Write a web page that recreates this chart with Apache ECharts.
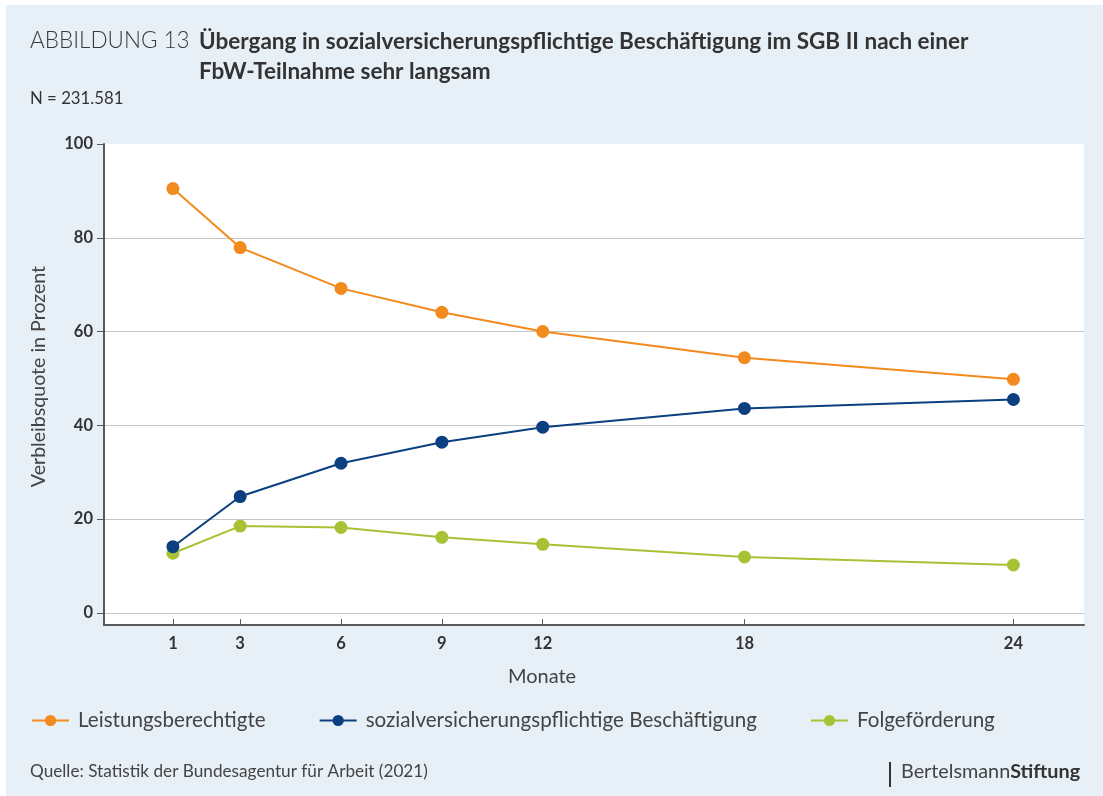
<!DOCTYPE html>
<html>
<head>
<meta charset="utf-8">
<script src="https://cdn.jsdelivr.net/npm/echarts@6/dist/echarts.min.js"></script>
<style>
  html, body { margin: 0; padding: 0; background: #fff; }
  #chart { width: 1103px; height: 796px; }
</style>
</head>
<body>
<div id="chart"></div>
<script>
// Months after programme participation
const months = [1, 3, 6, 9, 12, 18, 24];
// Share in percent per status
const leistungsberechtigte = [90.5, 77.9, 69.2, 64.1, 60.0, 54.4, 49.8];
const beschaeftigung = [14.1, 24.8, 31.9, 36.4, 39.6, 43.6, 45.5];
const folgefoerderung = [12.7, 18.5, 18.2, 16.1, 14.6, 11.9, 10.2];
const yTicks = [0, 20, 40, 60, 80, 100];

const seriesNames = ['Leistungsberechtigte', 'sozialversicherungspflichtige Beschäftigung', 'Folgeförderung'];
const seriesColors = ['#F28A1D', '#0B3F80', '#A8C236'];

// The axis is stretched after month 18 (24 sits at 26 on the drawing scale)
const BREAK = 18, STRETCH = 4 / 3;
const axisPos = m => (m <= BREAK ? m : BREAK + (m - BREAK) * STRETCH);
const fromPos = p => (p <= BREAK ? p : BREAK + (p - BREAK) / STRETCH);

const toPairs = vals => months.map((m, i) => [axisPos(m), vals[i]]);

const FONT = 'Lato, "Noto Sans", sans-serif';
const chart = echarts.init(document.getElementById('chart'));

chart.setOption({
  backgroundColor: '#fff',
  animation: false,
  textStyle: { fontFamily: FONT },
  grid: {
    left: 104, right: 19, top: 144, bottom: 171,
    show: true, backgroundColor: '#fff', borderWidth: 0
  },
  graphic: [
    { type: 'rect', z: -100, silent: true,
      shape: { x: 6, y: 5, width: 1097, height: 791 },
      style: { fill: '#E8F0F7' } },
    { type: 'text', left: 30, top: 29,
      style: { text: 'ABBILDUNG 13', fontFamily: FONT, fontWeight: 300, fontSize: 22.5, fill: '#3a3a3a' } },
    { type: 'text', left: 199, top: 27,
      style: { text: 'Übergang in sozialversicherungspflichtige Beschäftigung im SGB II nach einer\nFbW-Teilnahme sehr langsam',
               fontFamily: FONT, fontWeight: 'bold', fontSize: 22.5, lineHeight: 30, fill: '#333' } },
    { type: 'text', left: 30, top: 90,
      style: { text: 'N = 231.581', fontFamily: FONT, fontSize: 16.8, fill: '#333' } },
    { type: 'text', left: 30, top: 763,
      style: { text: 'Quelle: Statistik der Bundesagentur für Arbeit (2021)', fontFamily: FONT, fontSize: 17.2, fill: '#444' } },
    { type: 'rect', silent: true,
      shape: { x: 889, y: 762, width: 2, height: 25 },
      style: { fill: '#333' } },
    { type: 'text', left: 901, top: 762,
      style: { text: '{r|Bertelsmann}{b|Stiftung}',
               rich: { r: { fontFamily: FONT, fontSize: 19.8, fill: '#444', fontWeight: 'normal' },
                       b: { fontFamily: FONT, fontSize: 19.8, fill: '#333', fontWeight: 'bold' } } } }
  ],
  legend: {
    left: 31, top: 710, padding: 0,
    itemWidth: 37, itemHeight: 14, itemGap: 53,
    textStyle: { fontFamily: FONT, fontSize: 20.6, color: '#444', padding: [0, 0, 0, 4] },
    data: seriesNames
  },
  xAxis: {
    type: 'value',
    min: -1.05, max: 28.1,
    name: 'Monate',
    nameLocation: 'middle',
    nameGap: 42,
    nameTextStyle: { fontFamily: FONT, fontSize: 20, color: '#444', padding: [0, 104, 0, 0] },
    axisLine: { show: true, onZero: false, lineStyle: { color: '#5a5a5a', width: 2 } },
    axisTick: { show: true, inside: true, length: 6, customValues: months.map(axisPos),
                lineStyle: { color: '#5a5a5a', width: 1 } },
    axisLabel: { customValues: months.map(axisPos), margin: 10,
                 formatter: v => String(Math.round(fromPos(v))),
                 fontFamily: FONT, fontSize: 16.5, fontWeight: 'bold', color: '#333' },
    splitLine: { show: false }
  },
  yAxis: {
    type: 'value',
    min: -2.6, max: 100,
    name: 'Verbleibsquote in Prozent',
    nameLocation: 'middle',
    nameGap: 55,
    nameTextStyle: { fontFamily: FONT, fontSize: 19.6, color: '#444', padding: [0, 0, 0, 16] },
    axisLine: { show: true, onZero: false, lineStyle: { color: '#5a5a5a', width: 2 } },
    axisTick: { show: true, inside: false, length: 7, customValues: yTicks,
                lineStyle: { color: '#5a5a5a', width: 1 } },
    axisLabel: { customValues: yTicks, margin: 11,
                 fontFamily: FONT, fontSize: 16.5, fontWeight: 'bold', color: '#333' },
    splitLine: { show: true,
                 lineStyle: { color: ['#c6c6c6', '#c6c6c6', '#c6c6c6', '#c6c6c6', '#c6c6c6', 'rgba(0,0,0,0)'], width: 1 } }
  },
  series: [leistungsberechtigte, beschaeftigung, folgefoerderung].map((vals, i) => ({
    name: seriesNames[i],
    type: 'line',
    data: toPairs(vals),
    symbol: 'circle',
    symbolSize: 13,
    color: seriesColors[i],
    lineStyle: { width: 2, color: seriesColors[i] },
    itemStyle: { color: seriesColors[i] },
    z: 3 - i
  }))
});
</script>
</body>
</html>
